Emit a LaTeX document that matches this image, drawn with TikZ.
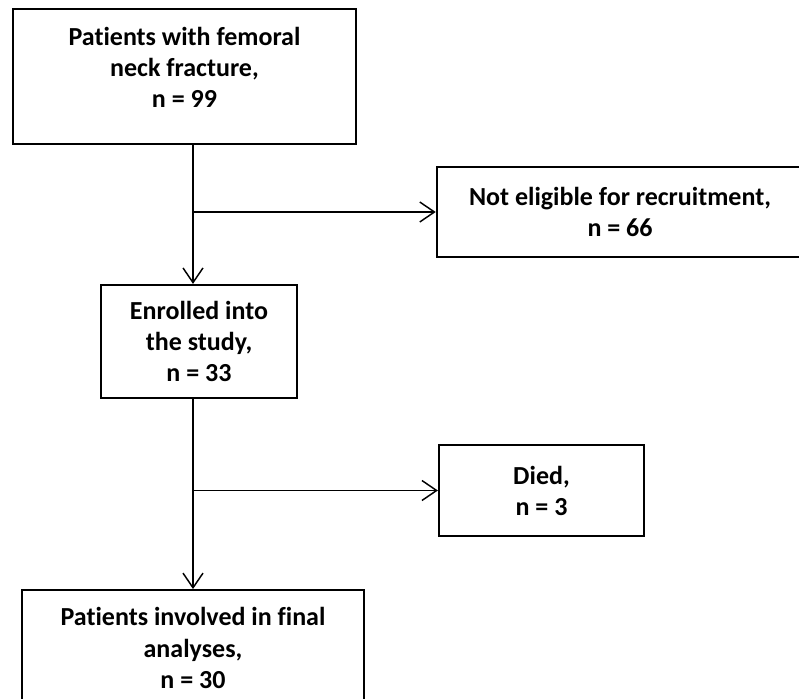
\documentclass[tikz,border=0pt]{standalone}
\usepackage{fontspec}
\setmainfont[RawFeature={-liga;-clig;-calt}]{Carlito}
\usetikzlibrary{arrows.meta, positioning, calc}

\begin{document}
\begin{tikzpicture}[x=0.75pt, y=-0.75pt,
	box/.style={draw, line width=1.4pt, align=center, font=\fontsize{19.5}{23.3}\selectfont\bfseries, inner sep=0pt},
	arr/.style={line width=1.1pt, -{Straight Barb[length=11pt, width=15pt, line width=1.1pt]}}]
	\useasboundingbox (0,0) rectangle (799,699);
	\node[box, minimum width=257pt, minimum height=101pt, text depth=14pt] (s) at (184.5,76.5) {Patients with femoral\\neck fracture,\\n = 99};
	\node[box, minimum width=147pt, minimum height=85pt] (a) at (199,341.5) {Enrolled into\\the study,\\n = 33};
	\node[box, minimum width=275pt, minimum height=67.5pt] (b) at (620,212) {Not eligible for recruitment,\\n = 66};
	\node[box, minimum width=154pt, minimum height=68pt] (c) at (541.5,490.5) {Died,\\n = 3};
	\node[box, minimum width=256.5pt, minimum height=87pt] (d) at (193,648) {Patients involved in final\\analyses,\\n = 30};
	% main line and side branches
	\draw[arr] (s.south -| d.north) -- (a.north -| d.north);
	\draw[arr] (b.west -| d.north) -- (b.west);
	\draw[arr] (a.south -| d.north) -- (d.north);
	\draw[arr] (c.west -| d.north) -- (c.west);
\end{tikzpicture}
\end{document}
